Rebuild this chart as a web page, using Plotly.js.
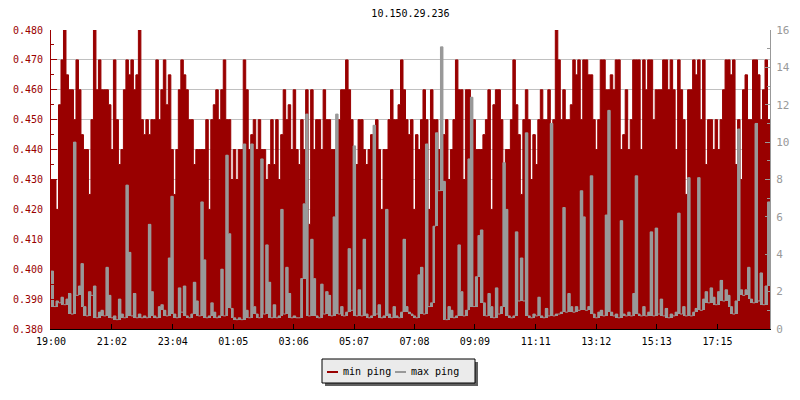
<!DOCTYPE html>
<html><head><meta charset="utf-8">
<script src="https://cdn.plot.ly/plotly-3.0.1.min.js"></script>
<style>html,body{margin:0;padding:0;background:#fff}#chart{width:800px;height:400px}</style>
</head><body><div id="chart"></div>
<script>
const chartTitle = '10.150.29.236';
const seriesNames = ['min ping', 'max ping'];
const startTime = '19:00';
const stepMinutes = 5;
const tickLabels = ['19:00','21:02','23:04','01:05','03:06','05:07','07:08','09:09','11:11','13:12','15:13','17:15'];

const minPing = [
0.43,0.43,0.42,0.455,0.47,0.48,0.465,0.46,0.46,0.45,
0.47,0.46,0.445,0.44,0.44,0.425,0.45,0.48,0.46,0.47,
0.46,0.46,0.46,0.455,0.44,0.47,0.45,0.435,0.44,0.46,
0.47,0.465,0.47,0.46,0.465,0.48,0.45,0.445,0.45,0.445,
0.45,0.45,0.47,0.45,0.46,0.47,0.455,0.465,0.44,0.425,
0.44,0.46,0.47,0.465,0.46,0.45,0.45,0.435,0.44,0.44,
0.44,0.44,0.45,0.42,0.45,0.455,0.46,0.45,0.46,0.47,
0.45,0.45,
0.43,0.44,0.43,0.44,0.44,0.47,0.46,0.44,0.445,0.45,
0.44,0.45,0.44,0.44,0.43,0.435,0.45,0.435,0.45,0.43,
0.445,0.46,0.45,0.455,0.44,0.46,0.44,0.435,0.45,0.44,
0.46,0.415,0.46,0.44,0.45,0.45,0.44,0.46,0.45,0.45,
0.44,0.44,0.425,0.45,0.46,0.46,0.47,0.46,0.45,0.405,
0.435,0.45,0.45,0.44,0.435,0.44,0.445,0.445,0.45,0.44,
0.42,0.44,0.44,0.45,0.46,0.45,0.45,0.455,0.47,0.46,
0.45,0.445,
0.45,0.42,0.445,0.44,0.45,0.46,0.45,0.42,0.46,0.45,
0.45,0.44,0.43,0.445,0.45,0.43,0.44,0.45,0.47,0.46,
0.46,0.43,0.46,0.46,0.44,0.45,0.44,0.44,0.44,0.445,
0.45,0.46,0.42,0.455,0.46,0.46,0.45,0.435,0.44,0.44,
0.45,0.47,0.455,0.445,0.425,0.45,0.46,0.45,0.43,0.445,
0.435,0.45,0.46,0.45,0.45,0.46,0.445,0.45,0.48,0.47,
0.45,0.46,0.45,0.45,0.455,0.47,0.465,0.47,0.45,0.47,
0.47,0.465,
0.465,0.45,0.44,0.45,0.47,0.47,0.46,0.46,0.465,0.46,
0.47,0.47,0.44,0.445,0.46,0.44,0.45,0.47,0.47,0.47,
0.44,0.47,0.46,0.47,0.47,0.45,0.46,0.46,0.46,0.47,
0.47,0.46,0.47,0.46,0.44,0.47,0.46,0.45,0.425,0.46,
0.46,0.47,0.465,0.47,0.45,0.47,0.435,0.45,0.45,0.44,
0.45,0.44,0.45,0.46,0.47,0.47,0.465,0.47,0.435,0.45,
0.43,0.46,0.465,0.45,0.45,0.47,0.47,0.465,0.45,0.46,
0.47,0.45
];

const maxPing = [
3.1,1.2,1.5,1.4,1.7,1.3,1.6,1.9,0.8,10.0,
1.8,2.3,3.5,1.2,0.7,2.0,1.8,2.3,0.6,0.9,
1.0,0.7,3.3,1.8,0.6,0.7,0.5,1.6,0.8,0.6,
7.7,4.1,0.7,1.9,0.6,0.8,0.6,0.7,0.6,5.6,
2.0,0.7,0.6,1.2,1.3,1.0,0.7,3.8,7.1,0.8,
0.6,2.2,0.9,2.3,0.7,0.6,0.8,2.5,1.5,0.7,
6.8,3.7,0.6,0.7,1.4,0.9,0.6,0.7,3.2,0.7,
9.3,5.1,
1.1,0.6,0.5,0.6,0.5,9.9,1.0,0.6,9.9,1.2,
0.8,0.6,9.1,0.8,4.5,2.5,0.6,1.3,0.6,0.7,
6.4,0.8,3.3,1.9,0.6,0.7,0.6,0.6,2.7,6.7,
11.5,0.7,4.8,2.7,0.7,0.6,2.4,0.8,2.0,1.8,
0.7,6.0,11.5,0.8,1.2,0.7,0.9,4.3,1.0,9.8,
0.7,2.1,0.7,4.8,0.8,0.6,0.7,10.9,0.8,1.3,
0.6,0.7,6.4,0.8,0.6,1.2,0.7,0.6,0.9,4.8,
1.2,0.9,
0.8,0.7,0.6,2.9,3.3,0.8,9.9,1.2,1.4,5.5,
10.5,7.4,15.1,7.9,0.5,1.2,1.0,0.6,0.7,4.5,
2.0,0.7,1.0,9.1,12.4,1.2,2.8,5.0,5.3,1.4,
0.7,1.9,1.2,0.6,2.2,0.8,1.2,8.9,6.4,0.7,
0.6,0.7,5.2,1.5,3.8,1.5,10.5,0.7,0.6,0.8,
0.7,1.7,0.7,0.6,1.1,0.7,11.0,0.7,0.8,0.8,
0.9,6.5,0.9,1.9,1.2,0.9,1.2,1.0,7.4,6.0,
1.0,1.2,
8.2,0.8,0.6,0.9,1.0,0.7,6.1,11.7,0.9,0.7,
0.8,0.6,5.8,0.8,0.7,0.9,0.7,1.9,8.2,0.8,
0.7,1.2,0.7,0.9,5.2,0.7,5.4,0.8,1.6,0.7,
1.1,0.6,0.8,0.7,0.9,6.2,0.8,1.2,0.7,8.1,
0.7,0.9,1.1,8.1,1.0,1.6,2.0,1.4,2.2,1.7,
1.3,2.0,2.6,1.5,2.1,1.8,1.2,0.8,1.5,10.7,
2.1,1.8,2.1,3.3,1.6,1.4,11.0,1.5,3.0,1.3,
2.3,6.8
];

function minutesFromStart(label) {
  const [h, m] = label.split(':').map(Number);
  const [h0, m0] = startTime.split(':').map(Number);
  let d = (h * 60 + m) - (h0 * 60 + m0);
  if (d < 0) d += 1440;
  return d;
}
const tickVals = tickLabels.map(minutesFromStart);
const xEnd = minPing.length * stepMinutes;
const xs = minPing.map((_, i) => i * stepMinutes).concat([xEnd]);
const xMid = maxPing.map((_, i) => i * stepMinutes + stepMinutes / 2);
const minStep = minPing.concat([minPing[minPing.length - 1]]);
const maxStep = maxPing.concat([maxPing[maxPing.length - 1]]);
// solid interior of each max-ping step (from the lower neighbouring level up to the sample)
const spikeBase = maxPing.map((v, i) => {
  const prev = i > 0 ? maxPing[i - 1] : v;
  const next = i < maxPing.length - 1 ? maxPing[i + 1] : v;
  return Math.min(prev, next, v);
});
const spikeLen = maxPing.map((v, i) => v - spikeBase[i]);

const RED = '#990000', GRAY = '#999999';
const FONT = 'DejaVu Sans Mono, monospace';
const L = 51, R = 770, T = 30, B = 329;
const pxX = x => (x - L) / (R - L);
const pxY = y => (B - y) / (B - T);

const traces = [
  {x: xs, y: minStep, type: 'scatter', mode: 'lines', name: seriesNames[0],
   line: {shape: 'hv', color: RED, width: 1}, fill: 'tozeroy', fillcolor: RED,
   yaxis: 'y', hoverinfo: 'skip'},
  {x: xMid, y: spikeLen, base: spikeBase, type: 'bar', width: stepMinutes, name: seriesNames[1],
   marker: {color: GRAY, line: {width: 0}}, yaxis: 'y2', hoverinfo: 'skip', showlegend: false},
  {x: xs, y: maxStep, type: 'scatter', mode: 'lines', name: seriesNames[1],
   line: {shape: 'hv', color: GRAY, width: 1}, yaxis: 'y2', hoverinfo: 'skip'}
];

const layout = {
  width: 800, height: 400,
  margin: {l: L, r: 800 - R, t: T, b: 400 - B, pad: 0},
  paper_bgcolor: '#ffffff', plot_bgcolor: '#ffffff',
  showlegend: false, bargap: 0,
  font: {family: FONT, size: 10, color: '#000'},
  title: {text: chartTitle, x: 0.5, xref: 'paper', xanchor: 'center',
          y: 1 - 13 / 400, yref: 'container', yanchor: 'middle',
          font: {family: FONT, size: 10, color: '#000'}},
  xaxis: {range: [0, xEnd], tickmode: 'array', tickvals: tickVals, ticktext: tickLabels,
          ticks: 'inside', ticklen: 5, tickcolor: '#000', showline: true, linecolor: '#000',
          linewidth: 1, showgrid: false, zeroline: false, ticklabelstandoff: 3,
          tickfont: {family: FONT, size: 10, color: '#000'}},
  yaxis: {range: [0.38, 0.48], tick0: 0.38, dtick: 0.01, tickformat: '.3f',
          ticks: 'inside', ticklen: 6, tickcolor: RED, showline: true, linecolor: RED,
          showgrid: true, gridcolor: '#c0c0c0', gridwidth: 1, zeroline: false,
          ticklabelstandoff: 5, tickfont: {family: FONT, size: 10, color: RED},
          minor: {tick0: 0.38, dtick: 0.005, ticks: 'inside', ticklen: 3, tickcolor: RED, showgrid: false}},
  yaxis2: {overlaying: 'y', side: 'right', range: [0, 16], tick0: 0, dtick: 2,
           ticks: 'inside', ticklen: 5, tickcolor: GRAY, showline: true, linecolor: GRAY,
           showgrid: false, zeroline: false, ticklabelstandoff: 3,
           tickfont: {family: FONT, size: 11, color: GRAY},
           minor: {tick0: 0, dtick: 1, ticks: 'inside', ticklen: 3, tickcolor: GRAY, showgrid: false}},
  shapes: [
    {type: 'rect', xref: 'paper', yref: 'paper', x0: pxX(325), x1: pxX(478), y0: pxY(362), y1: pxY(386),
     fillcolor: '#606060', line: {width: 0}},
    {type: 'rect', xref: 'paper', yref: 'paper', x0: pxX(322), x1: pxX(475), y0: pxY(359), y1: pxY(383),
     fillcolor: '#ebebeb', line: {color: '#000', width: 1}},
    {type: 'line', xref: 'paper', yref: 'paper', x0: pxX(327), x1: pxX(338), y0: pxY(372), y1: pxY(372),
     line: {color: RED, width: 2}},
    {type: 'line', xref: 'paper', yref: 'paper', x0: pxX(395), x1: pxX(406), y0: pxY(372), y1: pxY(372),
     line: {color: GRAY, width: 2}}
  ],
  annotations: [
    {text: seriesNames[0], xref: 'paper', yref: 'paper', x: pxX(341), y: pxY(371), xanchor: 'left',
     yanchor: 'middle', showarrow: false, font: {family: FONT, size: 10, color: '#000'}},
    {text: seriesNames[1], xref: 'paper', yref: 'paper', x: pxX(409), y: pxY(371), xanchor: 'left',
     yanchor: 'middle', showarrow: false, font: {family: FONT, size: 10, color: '#000'}}
  ]
};

Plotly.newPlot('chart', traces, layout, {displayModeBar: false, staticPlot: true});
</script>
</body></html>
